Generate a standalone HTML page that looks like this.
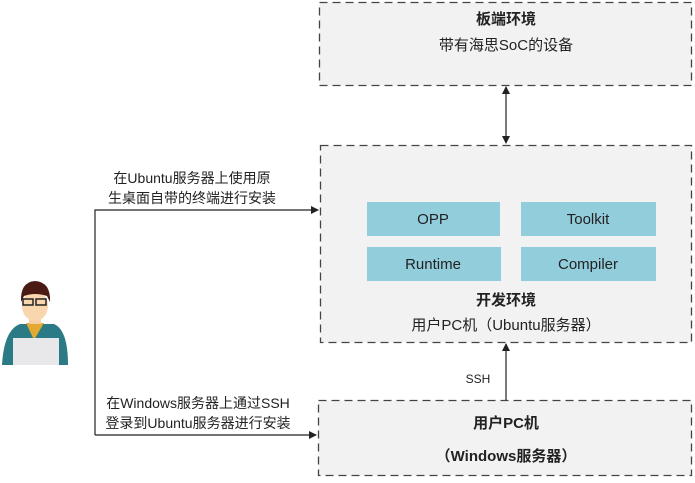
<!DOCTYPE html>
<html><head><meta charset="utf-8"><style>
html,body{margin:0;padding:0;background:#fff;}
svg text{font-family:"Liberation Sans","Noto Sans CJK SC",sans-serif;}
</style></head><body>
<svg width="695" height="478" viewBox="0 0 695 478" xmlns="http://www.w3.org/2000/svg">
<defs>
<marker id="ar" markerWidth="8" markerHeight="8" refX="7" refY="4" orient="auto" markerUnits="userSpaceOnUse">
<path d="M0,0 L8,4 L0,8 z" fill="#222"/></marker>
<marker id="ar2" markerWidth="8" markerHeight="8" refX="7" refY="4" orient="auto-start-reverse" markerUnits="userSpaceOnUse">
<path d="M0,0 L8,4 L0,8 z" fill="#222"/></marker>
</defs>
<g fill="#f2f2f2" stroke="#444" stroke-width="1.3" stroke-dasharray="8,5">
<rect x="319.5" y="2.5" width="372" height="83"/>
<rect x="320.5" y="145.5" width="371" height="197"/>
<rect x="318.5" y="400.5" width="373" height="75"/>
</g>
<g fill="#92cddc">
<rect x="367" y="202" width="133" height="34"/>
<rect x="521" y="202" width="135" height="34"/>
<rect x="367" y="247" width="134" height="34"/>
<rect x="521" y="247" width="135" height="34"/>
</g>
<g font-size="15" fill="#222" text-anchor="middle">
<text x="433" y="224">OPP</text>
<text x="588" y="224">Toolkit</text>
<text x="433" y="269">Runtime</text>
<text x="588" y="269">Compiler</text>
<text x="506" y="24" font-weight="bold">板端环境</text>
<text x="506" y="50">带有海思SoC的设备</text>
<text x="506" y="305" font-weight="bold">开发环境</text>
<text x="506" y="330">用户PC机（Ubuntu服务器）</text>
<text x="506" y="428" font-weight="bold">用户PC机</text>
<text x="506" y="461" font-weight="bold">（Windows服务器）</text>
<text x="478" y="383" font-size="12">SSH</text>
</g>
<g font-size="14" fill="#222" text-anchor="middle">
<text x="192" y="183">在Ubuntu服务器上使用原</text>
<text x="192" y="203">生桌面自带的终端进行安装</text>
<text x="198" y="408">在Windows服务器上通过SSH</text>
<text x="198" y="428">登录到Ubuntu服务器进行安装</text>
</g>
<g stroke="#222" stroke-width="1.2" fill="none">
<path d="M95,435 L95,210 L318,210" marker-end="url(#ar)"/>
<path d="M95,435 L316,435" marker-end="url(#ar)"/>
<line x1="506" y1="87" x2="506" y2="143" marker-start="url(#ar2)" marker-end="url(#ar)"/>
<line x1="506" y1="400" x2="506" y2="344" marker-end="url(#ar)"/>
</g>
<g>
<path d="M2,365 Q4,330 20,324 L54,324 Q68,330 68,365 z" fill="#2a7b86"/>
<path d="M26,323 L34,340 L44,323 z" fill="#e2aa32"/>
<rect x="29" y="314" width="12" height="10" fill="#f6cfa3"/>
<ellipse cx="35" cy="306" rx="13" ry="15" fill="#f9d6ae"/>
<path d="M21,302 Q20,282 35,281 Q51,282 50,302 L47,296 Q35,292 24,296 z" fill="#4a1a14"/>
<rect x="23" y="299" width="10" height="6" fill="none" stroke="#222" stroke-width="1.5"/>
<rect x="36" y="299" width="10" height="6" fill="none" stroke="#222" stroke-width="1.5"/>
<rect x="13" y="338" width="46" height="27" fill="#e8e8ea"/>
</g>
</svg>
</body></html>
